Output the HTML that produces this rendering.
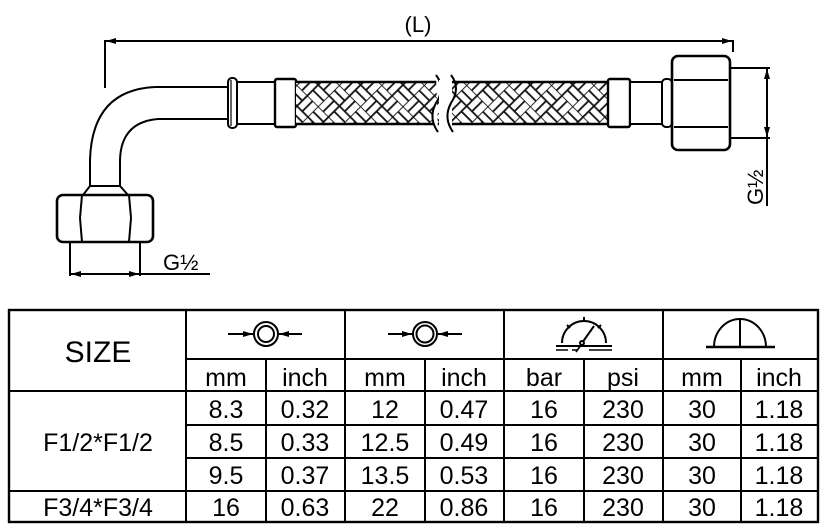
<!DOCTYPE html>
<html><head><meta charset="utf-8"><style>
html,body{margin:0;padding:0;background:#fff;}
svg{display:block;}
text{font-family:"Liberation Sans",Arial,sans-serif;fill:#000;}
</style></head><body>
<svg width="828" height="532" viewBox="0 0 828 532" xmlns="http://www.w3.org/2000/svg">
<defs>
<pattern id="bw" width="30" height="30" patternUnits="userSpaceOnUse" patternTransform="rotate(45)">
<rect width="30" height="30" fill="#fff"/>
<g stroke="#111" stroke-width="1.8" fill="none">
<line x1="0" y1="0" x2="30" y2="0"/><line x1="0" y1="15" x2="30" y2="15"/>
<line x1="0" y1="0" x2="0" y2="30"/><line x1="15" y1="0" x2="15" y2="30"/>
<line x1="0" y1="7.5" x2="15" y2="7.5"/><line x1="22.5" y1="0" x2="22.5" y2="15"/>
<line x1="7.5" y1="15" x2="7.5" y2="30"/><line x1="15" y1="22.5" x2="30" y2="22.5"/>
</g></pattern>
<marker id="ah" viewBox="0 0 10 6" refX="10" refY="3" markerWidth="11" markerHeight="6" orient="auto" markerUnits="userSpaceOnUse"><path d="M0,0 L10,3 L0,6 Z" fill="#000"/></marker>
</defs>
<g stroke="#000" stroke-width="2" fill="none">
<line x1="105" y1="40" x2="105" y2="88"/>
<line x1="733" y1="40" x2="733" y2="52"/>
<line x1="120" y1="41" x2="106" y2="41" marker-end="url(#ah)"/>
<line x1="120" y1="41" x2="732" y2="41" marker-end="url(#ah)"/>
<path d="M228,87 L155,87 Q92,90 90,160 L90,186"/>
<path d="M228,119 L158,119 Q121,122 120,160 L120,186"/>
<path d="M90,186 L120,186 L128,195 L83,195 Z" fill="#fff"/>
<rect x="57" y="195" width="96" height="47" rx="6" fill="#fff" stroke-width="2.6"/>
<path d="M82,195 L80,218 L82,242 M129,195 L131,218 L129,242" />
<line x1="70" y1="243" x2="70" y2="276"/>
<line x1="140" y1="243" x2="140" y2="276"/>
<line x1="100" y1="274" x2="71" y2="274" marker-end="url(#ah)"/>
<line x1="100" y1="274" x2="139" y2="274" marker-end="url(#ah)"/>
<line x1="140" y1="274" x2="210" y2="274"/>
<rect x="228" y="78" width="9" height="50" rx="4" fill="#fff"/>
<line x1="231" y1="80" x2="231" y2="126" stroke-width="1.2"/>
<rect x="237" y="82" width="38" height="42" fill="#fff"/>
<rect x="275" y="79" width="21" height="48" rx="2" fill="#fff" stroke-width="2.4"/>
<rect x="296" y="82" width="144" height="42" fill="url(#bw)" stroke="none"/>
<rect x="452" y="82" width="156" height="42" fill="url(#bw)" stroke="none"/>
<line x1="296" y1="82" x2="440" y2="82" stroke-width="2.4"/><line x1="296" y1="124" x2="440" y2="124" stroke-width="2.4"/>
<line x1="452" y1="82" x2="608" y2="82" stroke-width="2.4"/><line x1="452" y1="124" x2="608" y2="124" stroke-width="2.4"/>
<path d="M436,75 Q446,88 436,103 Q428,118 438,132" fill="#fff"/>
<path d="M451,75 Q461,88 451,103 Q443,118 453,132"/>
<rect x="439" y="80" width="5" height="46" fill="#fff" stroke="none"/>
<rect x="608" y="79" width="22" height="48" rx="2" fill="#fff" stroke-width="2.4"/>
<rect x="630" y="82" width="32" height="42" fill="#fff"/>
<rect x="662" y="79" width="10" height="48" rx="4" fill="#fff"/>
<rect x="672" y="56" width="58" height="94" rx="6" fill="#fff" stroke-width="2.6"/>
<path d="M674,80 L728,80 M674,127 L728,127"/>
<line x1="730" y1="68" x2="770" y2="68"/>
<line x1="730" y1="138" x2="770" y2="138"/>
<line x1="767" y1="100" x2="767" y2="69" marker-end="url(#ah)"/>
<line x1="767" y1="100" x2="767" y2="137" marker-end="url(#ah)"/>
<line x1="767" y1="138" x2="767" y2="206"/>
</g>
<text x="418" y="32" font-size="22" text-anchor="middle">(L)</text>
<text x="163" y="270" font-size="22">G½</text>
<text x="0" y="0" font-size="22" transform="translate(763,205) rotate(-90)">G½</text>

<g stroke="#000" stroke-width="2" fill="none">
<rect x="9" y="310" width="809" height="212" stroke-width="2.4"/>
<line x1="186" y1="359" x2="818" y2="359"/>
<line x1="9" y1="391" x2="818" y2="391"/>
<line x1="186" y1="425" x2="818" y2="425"/>
<line x1="186" y1="458" x2="818" y2="458"/>
<line x1="9" y1="491" x2="818" y2="491"/>
<line x1="186" y1="310" x2="186" y2="522"/>
<line x1="345" y1="310" x2="345" y2="522"/>
<line x1="504" y1="310" x2="504" y2="522"/>
<line x1="663" y1="310" x2="663" y2="522"/>
<line x1="266" y1="359" x2="266" y2="522"/>
<line x1="425" y1="359" x2="425" y2="522"/>
<line x1="584" y1="359" x2="584" y2="522"/>
<line x1="741" y1="359" x2="741" y2="522"/>
<circle cx="266" cy="334" r="12"/><circle cx="266" cy="334" r="8"/>
<line x1="228" y1="334" x2="253" y2="334" marker-end="url(#ah)"/>
<line x1="302" y1="334" x2="279" y2="334" marker-end="url(#ah)"/>
<circle cx="425" cy="334" r="12"/><circle cx="425" cy="334" r="8.5"/>
<line x1="388" y1="334" x2="412" y2="334" marker-end="url(#ah)"/>
<line x1="462" y1="334" x2="438" y2="334" marker-end="url(#ah)"/>
<path d="M562,343 A22,22 0 1 1 606,343"/>
<line x1="584" y1="317" x2="584" y2="321"/><line x1="567" y1="325" x2="570" y2="328"/><line x1="601" y1="325" x2="598" y2="328"/>
<line x1="582" y1="343" x2="594" y2="326"/><circle cx="582" cy="343" r="2" fill="#fff"/>
<line x1="556" y1="346" x2="612" y2="346"/>
<path d="M556,350 L568,350 M572,350 L578,350 M589,350 L612,350" stroke-width="1.6"/>
<line x1="576" y1="352" x2="581" y2="345" stroke-width="1.6"/>
<path d="M714,347 A26,28 0 0 1 766,347"/>
<line x1="740" y1="319" x2="740" y2="347"/>
<line x1="706" y1="347" x2="775" y2="347" stroke-width="2.6"/>
</g>
<g font-size="25" text-anchor="middle">
<text x="98" y="362" font-size="30">SIZE</text>
<text x="226" y="386">mm</text><text x="305" y="386">inch</text>
<text x="385" y="386">mm</text><text x="464" y="386">inch</text>
<text x="544" y="386">bar</text><text x="623" y="386">psi</text>
<text x="702" y="386">mm</text><text x="779" y="386">inch</text>
<text x="98" y="451">F1/2*F1/2</text>
<text x="98" y="516">F3/4*F3/4</text>
<text x="226" y="418">8.3</text><text x="305" y="418">0.32</text><text x="385" y="418">12</text><text x="464" y="418">0.47</text><text x="544" y="418">16</text><text x="623" y="418">230</text><text x="702" y="418">30</text><text x="779" y="418">1.18</text>
<text x="226" y="451">8.5</text><text x="305" y="451">0.33</text><text x="385" y="451">12.5</text><text x="464" y="451">0.49</text><text x="544" y="451">16</text><text x="623" y="451">230</text><text x="702" y="451">30</text><text x="779" y="451">1.18</text>
<text x="226" y="484">9.5</text><text x="305" y="484">0.37</text><text x="385" y="484">13.5</text><text x="464" y="484">0.53</text><text x="544" y="484">16</text><text x="623" y="484">230</text><text x="702" y="484">30</text><text x="779" y="484">1.18</text>
<text x="226" y="516">16</text><text x="305" y="516">0.63</text><text x="385" y="516">22</text><text x="464" y="516">0.86</text><text x="544" y="516">16</text><text x="623" y="516">230</text><text x="702" y="516">30</text><text x="779" y="516">1.18</text>
</g>
</svg>
</body></html>
